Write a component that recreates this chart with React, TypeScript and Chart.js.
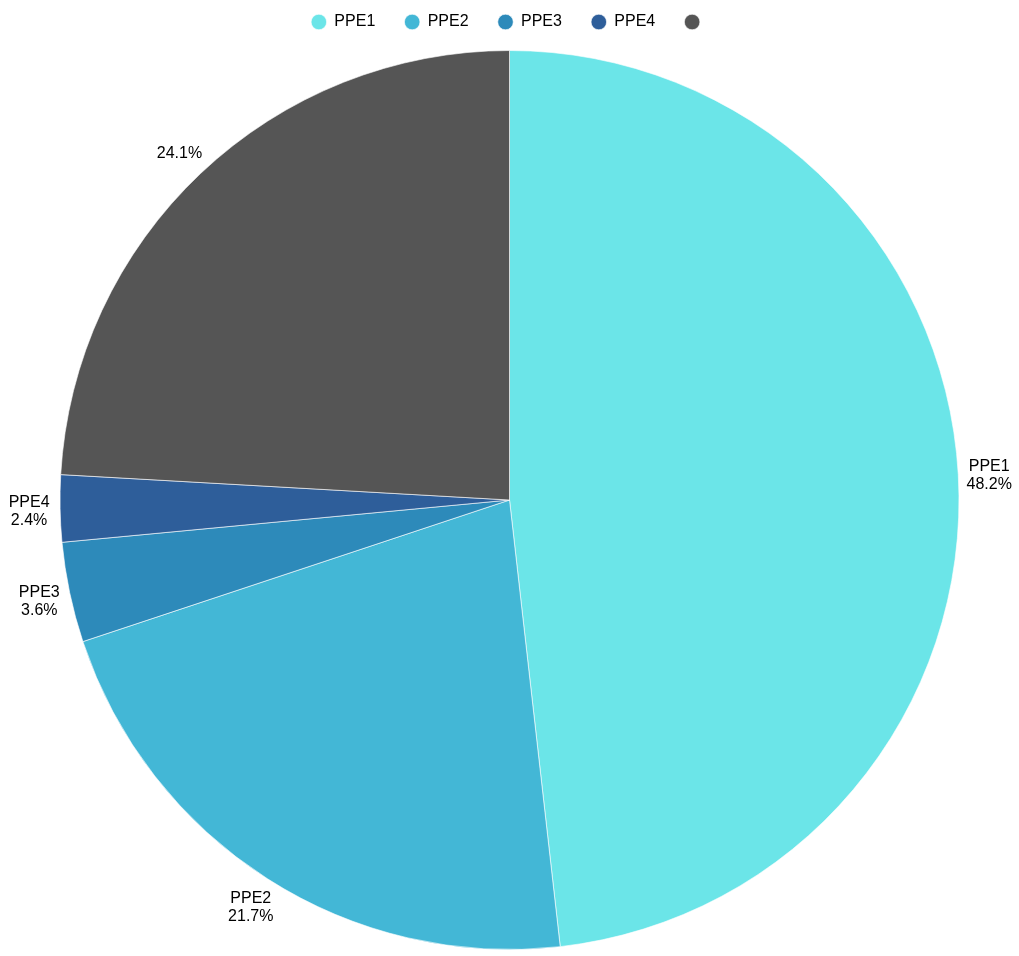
import React, { useEffect, useRef } from "react";
import { Chart, registerables } from "chart.js";

Chart.register(...registerables);

const categories = ["PPE1", "PPE2", "PPE3", "PPE4", ""];
const values = [48.2, 21.7, 3.6, 2.4, 24.1];
const colors = ["#6be5e8", "#43b7d6", "#2d8aba", "#2e5e9a", "#555555"];

const FONT = "'Liberation Sans', Arial, Helvetica, sans-serif";
const LEGEND_PAD = 29.4;
const LEGEND_TOP = -15.4;
const LEGEND_HEIGHT = 65.4;

const legendHeight = {
  id: "legendHeight",
  beforeInit(chart: any) {
    const legend = chart.legend;
    if (!legend) return;
    const orig = legend.fit;
    legend.fit = function () {
      orig.call(this);
      this.height = LEGEND_HEIGHT;
    };
  },
};

const outsideLabels = {
  id: "outsideLabels",
  afterDatasetsDraw(chart: any) {
    const ctx = chart.ctx;
    const meta = chart.getDatasetMeta(0);
    const data = chart.data.datasets[0].data as number[];
    const total = data.reduce((a: number, b: number) => a + b, 0);
    ctx.save();
    ctx.font = `16px ${FONT}`;
    ctx.fillStyle = "#000";
    ctx.textAlign = "center";
    ctx.textBaseline = "middle";
    meta.data.forEach((arc: any, i: number) => {
      const { x, y, startAngle, endAngle, outerRadius } = arc.getProps(
        ["x", "y", "startAngle", "endAngle", "outerRadius"],
        true
      );
      const mid = (startAngle + endAngle) / 2;
      const r = outerRadius + 31;
      const px = x + Math.cos(mid) * r;
      const py = y + Math.sin(mid) * r + 3;
      const pct = ((data[i] / total) * 100).toFixed(1) + "%";
      const name = chart.data.labels[i] as string;
      const lines = name ? [name, pct] : [pct];
      const lh = 18;
      const start = py - ((lines.length - 1) * lh) / 2;
      lines.forEach((t, j) => ctx.fillText(t, px, start + j * lh));
    });
    ctx.restore();
  },
};

export default function App() {
  const ref = useRef<HTMLCanvasElement>(null);
  useEffect(() => {
    if (!ref.current) return;
    const chart = new Chart(ref.current, {
      type: "pie",
      data: {
        labels: categories,
        datasets: [
          {
            data: values,
            backgroundColor: colors,
            borderColor: "rgba(255,255,255,0.6)",
            borderWidth: 1,
          },
        ],
      },
      options: {
        animation: false,
        responsive: true,
        maintainAspectRatio: false,
        layout: { padding: { top: LEGEND_TOP, bottom: 6, left: 0, right: 0 } },
        plugins: {
          legend: {
            position: "top",
            labels: {
              usePointStyle: true,
              pointStyle: "circle",
              boxWidth: 15,
              boxHeight: 11,
              padding: LEGEND_PAD,
              color: "#000",
              font: { family: FONT, size: 16 },
            },
          },
          tooltip: { enabled: false },
        },
      },
      plugins: [legendHeight, outsideLabels],
    });
    return () => chart.destroy();
  }, []);
  return (
    <div style={{ position: "absolute", left: 0, top: 0, width: 1019, height: 956 }}>
      <canvas ref={ref} />
    </div>
  );
}
